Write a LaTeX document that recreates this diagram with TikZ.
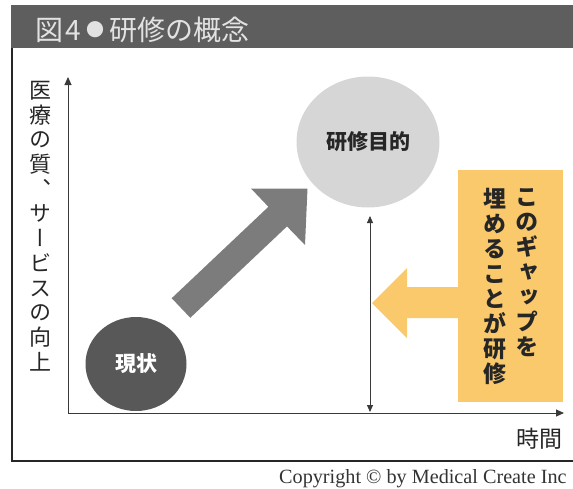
\documentclass[tikz,border=0pt]{standalone}
\usepackage{fontspec}
\setmainfont{Liberation Serif}
\newfontfamily\jp{Noto Sans CJK JP}
\newfontfamily\jpv[RawFeature=+vert]{Noto Sans CJK JP}
\usetikzlibrary{arrows.meta,shapes.geometric}
\definecolor{barbg}{HTML}{5E5E5E}
\definecolor{bartext}{HTML}{E2E2E2}
\definecolor{darkc}{HTML}{585858}
\definecolor{lightc}{HTML}{D6D6D6}
\definecolor{arrgray}{HTML}{7C7C7C}
\definecolor{gapyel}{HTML}{F9C96C}
\definecolor{axisc}{HTML}{3A3A3A}
\tikzset{
  axis/.style={draw=axisc,line width=1pt,-{Triangle[length=8pt,width=7pt]}},
  gaparr/.style={draw=axisc,line width=0.9pt,{Triangle[length=7pt,width=6pt]}-{Triangle[length=7pt,width=6pt]}},
  vlabel/.style={align=center,inner sep=0pt,font=\jpv\fontsize{22}{24.7}\selectfont,text=black!85},
  boxlabel/.style={align=center,inner sep=0pt,font=\jpv\bfseries\fontsize{23}{25}\selectfont,text=black!85},
}
\begin{document}
\begin{tikzpicture}[x=1pt,y=-1pt]
\useasboundingbox (0,0) rectangle (573,488);
\clip (0,0) rectangle (573,488);
% frame
\fill[barbg] (11,5) rectangle (573,48);
\node[anchor=base west,inner sep=0pt,font=\jp\fontsize{28}{28}\selectfont,text=bartext] (title) at (35,40)
  {図\hspace{2pt}4\hspace{6pt}\raisebox{3.5pt}{\fontsize{18}{18}\selectfont ●}\hspace{5pt}研修の概念};
\draw[black!85,line width=1.6pt] (12,48) -- (12,461);
\draw[black!85,line width=2.4pt] (11,461) -- (573,461);
% axes
\coordinate (O) at (68,413);
\coordinate (ytop) at (68,77);
\coordinate (xend) at (564,413);
\draw[axis] (O) -- (ytop);
\draw[axis] (O) -- (xend);
\node[vlabel] (ylab) at (40,226) {医\\療\\の\\質\\、\\サ\\ー\\ビ\\ス\\の\\向\\上};
\node[inner sep=0pt,font=\jp\fontsize{23}{23}\selectfont,text=black!85] (xlab) at (539,439) {時間};
% circles
\node[ellipse,fill=darkc,minimum width=101pt,minimum height=94pt,inner sep=0pt,
      text=white,font=\jp\bfseries\fontsize{21}{21}\selectfont] (cur) at (136,364) {現状};
\node[ellipse,fill=lightc,minimum width=143pt,minimum height=131pt,inner sep=0pt,
      text=black!85,font=\jp\bfseries\fontsize{21}{21}\selectfont] (goal) at (368,142) {研修目的};
% big gray arrow
\fill[arrgray] (190.3,317.8) -- (171.7,298.2) -- (268.4,206.8) -- (251.0,188.5)
  -- (307.5,188.5) -- (305.0,245.0) -- (287.0,226.4) -- cycle;
% gap arrow
\coordinate (gtop) at (370,216);
\coordinate (gbot) at (370,412);
\draw[gaparr] (gtop) -- (gbot);
% yellow box and arrow
\node[fill=gapyel,minimum width=105pt,minimum height=232pt,inner sep=0pt] (box) at (510.5,286) {};
\fill[gapyel] (372,303) -- (407,268) -- (407,287) -- (459,287) -- (459,318) -- (407,318) -- (407,338) -- cycle;
\node[boxlabel,anchor=north] (col1) at (527,188) {こ\\の\\ギ\\ャ\\ッ\\プ\\を};
\node[boxlabel,anchor=north] (col2) at (495,188) {埋\\め\\る\\こ\\と\\が\\研\\修};
% copyright
\node[anchor=base west,inner sep=0pt,font=\fontsize{20.2}{20.2}\selectfont,text=black!80] (copy) at (279,483) {Copyright \textcopyright\ by Medical Create Inc};
\end{tikzpicture}
\end{document}
